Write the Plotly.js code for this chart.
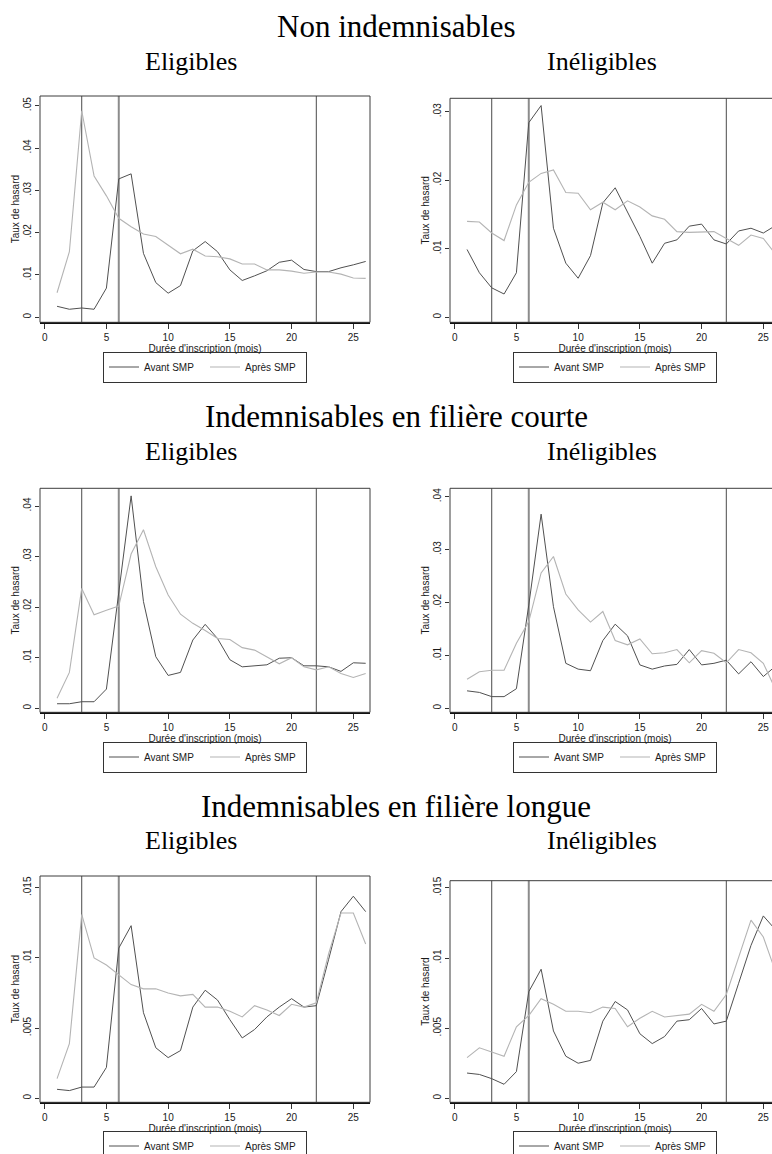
<!DOCTYPE html>
<html>
<head>
<meta charset="utf-8">
<script src="https://cdn.plot.ly/plotly-3.0.1.min.js"></script>
<style>
  html, body { margin: 0; padding: 0; overflow: hidden; background: #fff; }
  #chart { width: 800px; height: 1170px; }
</style>
</head>
<body>
<div id="chart"></div>
<script>
// Durée d'inscription (mois)
const months = [1,2,3,4,5,6,7,8,9,10,11,12,13,14,15,16,17,18,19,20,21,22,23,24,25,26];

// Vertical reference lines (mois)
const cutoffs = [3, 6, 22];

// Non indemnisables
const nonEligAvant = [0.0026,0.0019,0.0022,0.0019,0.0069,0.0327,0.0339,0.0151,0.0082,0.0057,0.0075,0.0157,0.0179,0.0155,0.0112,0.0087,0.0098,0.0110,0.0130,0.0135,0.0113,0.0108,0.0108,0.0117,0.0124,0.0132];
const nonEligApres = [0.0058,0.0155,0.0488,0.0334,0.0287,0.0234,0.0214,0.0197,0.0191,0.0171,0.0150,0.0161,0.0145,0.0143,0.0138,0.0126,0.0126,0.0112,0.0112,0.0109,0.0104,0.0107,0.0107,0.0102,0.0093,0.0092];
const nonInelAvant = [0.0099,0.0065,0.0043,0.0034,0.0065,0.0284,0.0309,0.0130,0.0079,0.0057,0.0090,0.0167,0.0189,0.0154,0.0118,0.0079,0.0108,0.0113,0.0133,0.0136,0.0113,0.0107,0.0126,0.0130,0.0123,0.0134];
const nonInelApres = [0.0140,0.0139,0.0123,0.0112,0.0164,0.0197,0.0210,0.0215,0.0182,0.0181,0.0157,0.0168,0.0157,0.0170,0.0161,0.0148,0.0143,0.0125,0.0124,0.0125,0.0125,0.0115,0.0105,0.0120,0.0115,0.0092];

// Indemnisables en filière courte
const courteEligAvant = [0.0009,0.0009,0.0013,0.0013,0.0038,0.0225,0.0420,0.0211,0.0102,0.0065,0.0071,0.0135,0.0166,0.0138,0.0096,0.0082,0.0084,0.0086,0.0099,0.0100,0.0084,0.0084,0.0082,0.0073,0.0090,0.0089];
const courteEligApres = [0.0020,0.0071,0.0237,0.0185,0.0194,0.0202,0.0305,0.0353,0.0280,0.0224,0.0186,0.0168,0.0154,0.0138,0.0136,0.0120,0.0115,0.0102,0.0088,0.0100,0.0082,0.0076,0.0082,0.0069,0.0061,0.0069];
const courteInelAvant = [0.0033,0.0030,0.0022,0.0022,0.0037,0.0195,0.0367,0.0192,0.0085,0.0074,0.0071,0.0128,0.0159,0.0137,0.0082,0.0074,0.0080,0.0083,0.0111,0.0082,0.0085,0.0091,0.0065,0.0088,0.0060,0.0080];
const courteInelApres = [0.0055,0.0069,0.0072,0.0072,0.0123,0.0164,0.0256,0.0287,0.0216,0.0186,0.0163,0.0183,0.0128,0.0120,0.0131,0.0103,0.0105,0.0111,0.0086,0.0109,0.0104,0.0086,0.0111,0.0105,0.0085,0.0035];

// Indemnisables en filière longue
const longueEligAvant = [0.00064,0.00055,0.0008,0.0008,0.0022,0.0107,0.0123,0.0061,0.0036,0.0029,0.0034,0.0065,0.0077,0.0070,0.0056,0.0043,0.0049,0.0058,0.0065,0.0071,0.0065,0.0066,0.0099,0.0133,0.0144,0.0133];
const longueEligApres = [0.0014,0.0039,0.0131,0.0100,0.0095,0.0088,0.0081,0.0078,0.0078,0.0075,0.0073,0.0074,0.0065,0.0065,0.0062,0.0058,0.0066,0.0063,0.0059,0.0067,0.0065,0.0068,0.0103,0.0132,0.0132,0.0110];
const longueInelAvant = [0.0018,0.0017,0.0014,0.0010,0.0019,0.0076,0.0092,0.0048,0.0030,0.0025,0.0027,0.0055,0.0069,0.0063,0.0046,0.0039,0.0044,0.0055,0.0056,0.0064,0.0053,0.0055,0.0082,0.0109,0.0130,0.0120];
const longueInelApres = [0.0029,0.0036,0.0033,0.0030,0.0051,0.0059,0.0071,0.0067,0.0062,0.0062,0.0061,0.0065,0.0064,0.0051,0.0057,0.0062,0.0058,0.0059,0.0060,0.0067,0.0062,0.0074,0.0100,0.0127,0.0115,0.0090];

// Tick labels
const xTicks = [0, 5, 10, 15, 20, 25];
const yTicksA = [0, 0.01, 0.02, 0.03, 0.04, 0.05];
const yLabelsA = ['0', '.01', '.02', '.03', '.04', '.05'];
const yTicksB = [0, 0.005, 0.01, 0.015];
const yLabelsB = ['0', '.005', '.01', '.015'];

// Text
const seriesNames = ['Avant SMP', 'Après SMP'];
const groupTitles = ['Non indemnisables', 'Indemnisables en filière courte', 'Indemnisables en filière longue'];
const colTitles = ['Eligibles', 'Inéligibles'];
const xTitle = "Durée d'inscription (mois)";
const yTitle = 'Taux de hasard';

// Page geometry (px)
const W = 800, H = 1170;
const px = v => v / W;
const py = v => 1 - v / H;

const SANS = 'Liberation Sans, Arial, sans-serif';
const SERIF = 'Liberation Serif, Times New Roman, serif';
const C_AVANT = '#505050';
const C_APRES = '#b4b4b4';

// Each panel: its data, y ticks and plot box in pixels
const panels = [
  {avant: nonEligAvant,    apres: nonEligApres,    yt: yTicksA.slice(0, 6), yl: yLabelsA.slice(0, 6), yr: [-0.00118, 0.05229], box: [40, 370, 96, 322.3]},
  {avant: nonInelAvant,    apres: nonInelApres,    yt: yTicksA.slice(0, 4), yl: yLabelsA.slice(0, 4), yr: [-0.00073, 0.03196], box: [450, 780, 98.3, 322.3]},
  {avant: courteEligAvant, apres: courteEligApres, yt: yTicksA.slice(0, 5), yl: yLabelsA.slice(0, 5), yr: [-0.00079, 0.0435],  box: [40, 370, 488.3, 712.3]},
  {avant: courteInelAvant, apres: courteInelApres, yt: yTicksA.slice(0, 5), yl: yLabelsA.slice(0, 5), yr: [-0.00076, 0.04159], box: [450, 780, 488.3, 712.3]},
  {avant: longueEligAvant, apres: longueEligApres, yt: yTicksB, yl: yLabelsB, yr: [-0.000285, 0.01584], box: [40, 370, 876, 1102.3]},
  {avant: longueInelAvant, apres: longueInelApres, yt: yTicksB, yl: yLabelsB, yr: [-0.000285, 0.01551], box: [450, 780, 880.7, 1102.3]}
];
// vertical centre of each legend box
const legendMids = [367, 367, 757, 757, 1146, 1146];

const traces = [];
const layout = {
  width: W, height: H,
  margin: {l: 0, r: 0, t: 0, b: 0},
  paper_bgcolor: '#fff', plot_bgcolor: '#fff',
  font: {family: SANS, size: 10, color: '#1a1a1a'},
  shapes: [], annotations: []
};

panels.forEach((p, i) => {
  const n = i + 1;
  const xa = 'x' + n, ya = 'y' + n;
  const legName = n === 1 ? 'legend' : 'legend' + n;
  const [l, r, t, b] = p.box;

  traces.push({x: months, y: p.avant, xaxis: xa, yaxis: ya, mode: 'lines', name: seriesNames[0],
               line: {color: C_AVANT, width: 1}, legend: legName, hoverinfo: 'skip'});
  traces.push({x: months, y: p.apres, xaxis: xa, yaxis: ya, mode: 'lines', name: seriesNames[1],
               line: {color: C_APRES, width: 1.1}, legend: legName, hoverinfo: 'skip'});

  layout['xaxis' + n] = {
    domain: [px(l), px(r)], anchor: ya, range: [-0.38, 26.35],
    tickvals: xTicks, ticks: 'outside', ticklen: 5, tickwidth: 1, tickcolor: '#333',
    showline: true, linecolor: '#111', linewidth: 2,
    showgrid: false, zeroline: false, fixedrange: true,
    tickfont: {family: SANS, size: 10, color: '#1a1a1a'},
    title: {text: xTitle, standoff: 0, font: {family: SANS, size: 10, color: '#1a1a1a'}}
  };
  layout['yaxis' + n] = {
    domain: [py(b), py(t)], anchor: xa, range: p.yr,
    tickvals: p.yt, ticktext: p.yl, tickangle: -90,
    ticks: 'outside', ticklen: 4, tickwidth: 1, tickcolor: '#333',
    showline: false, showgrid: false, zeroline: false, fixedrange: true,
    tickfont: {family: SANS, size: 10, color: '#1a1a1a'},
    title: {text: yTitle, standoff: 0, font: {family: SANS, size: 10, color: '#1a1a1a'}}
  };

  // plot region frame
  layout.shapes.push({type: 'rect', xref: xa + ' domain', yref: ya + ' domain', x0: 0, x1: 1, y0: 0, y1: 1,
                      line: {color: '#3c3c3c', width: 1}, layer: 'above'});
  // reference lines
  cutoffs.forEach(c => {
    const mid = c === 6;
    layout.shapes.push({type: 'line', xref: xa, yref: ya + ' domain', x0: c, x1: c, y0: 0, y1: 1,
                        line: {color: mid ? '#8c8c8c' : '#4a4a4a', width: mid ? 2 : 1}, layer: 'below'});
  });

  layout[legName] = {
    orientation: 'h', x: px((l + r) / 2), y: py(legendMids[i]), xanchor: 'center', yanchor: 'middle',
    xref: 'paper', yref: 'paper',
    bgcolor: '#fff', bordercolor: '#333', borderwidth: 1,
    font: {family: SANS, size: 10, color: '#1a1a1a'},
    itemwidth: 30, entrywidth: 56, traceorder: 'normal'
  };
});

// Group titles and column subtitles
const titleBase = [36.7, 426.7, 816.7];
const subBase = [68.3, 458.3, 847.3];
groupTitles.forEach((txt, g) => {
  layout.annotations.push({text: txt, xref: 'paper', yref: 'paper', x: px(396), y: py(titleBase[g] - 10),
    xanchor: 'center', yanchor: 'middle', showarrow: false, font: {family: SERIF, size: 31, color: '#000'}});
  layout.annotations.push({text: colTitles[0], xref: 'paper', yref: 'paper', x: px(191), y: py(subBase[g] - 7),
    xanchor: 'center', yanchor: 'middle', showarrow: false, font: {family: SERIF, size: 26, color: '#000'}});
  layout.annotations.push({text: colTitles[1], xref: 'paper', yref: 'paper', x: px(601.5), y: py(subBase[g] - 7),
    xanchor: 'center', yanchor: 'middle', showarrow: false, font: {family: SERIF, size: 26, color: '#000'}});
});

Plotly.newPlot('chart', traces, layout, {staticPlot: true});
</script>
</body>
</html>
